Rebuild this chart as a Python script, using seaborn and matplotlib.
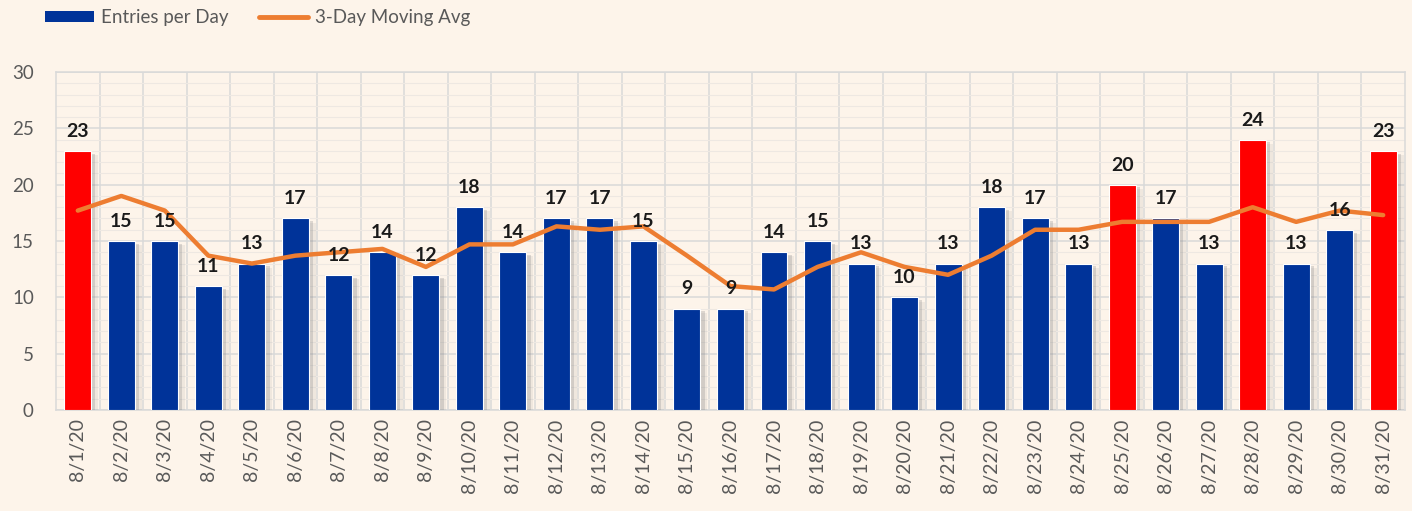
"""
Daily entries for August 2020 with a 3-day moving average.
Bars of 20 or more are shown in red.
"""
import numpy as np
import matplotlib

matplotlib.use("Agg")
import matplotlib.pyplot as plt
import matplotlib.patheffects as pe
from matplotlib.lines import Line2D
from matplotlib.patches import Patch
from matplotlib.ticker import MultipleLocator, FixedLocator
import seaborn as sns

dates = [f"8/{d}/20" for d in range(1, 32)]
entries = [23, 15, 15, 11, 13, 17, 12, 14, 12, 18, 14, 17, 17, 15, 9, 9,
           14, 15, 13, 10, 13, 18, 17, 13, 20, 17, 13, 24, 13, 16, 23]
moving_avg = [17.7, 19.0, 17.7, 13.7, 13.0, 13.7, 14.0, 14.3, 12.7, 14.7,
              14.7, 16.3, 16.0, 16.3, 13.7, 11.0, 10.7, 12.7, 14.0, 12.7,
              12.0, 13.7, 16.0, 16.0, 16.7, 16.7, 16.7, 18.0, 16.7, 17.7, 17.3]

BLUE = "#003399"
RED = "#FF0000"
ORANGE = "#ED7D31"
BG = "#FDF4EA"
GRID = "#D9D9D9"
TICK = "#595959"


def main():
    sns.set_style("white")
    plt.rcParams["font.family"] = ["Lato", "DejaVu Sans"]

    fig = plt.figure(figsize=(14.12, 5.11), dpi=100, facecolor=BG)
    ax = fig.add_axes([0.0397, 0.1977, 0.9553, 0.6613])
    ax.set_facecolor(BG)

    palette = {d: (RED if v >= 20 else BLUE) for d, v in zip(dates, entries)}
    sns.barplot(
        x=dates, y=entries, hue=dates, palette=palette, legend=False,
        width=0.62, edgecolor="white", linewidth=0.8, saturation=1, ax=ax,
        zorder=3,
    )
    # soft drop shadow, a few offset layers to fake a blur
    for bar in ax.patches:
        bar.set_path_effects([
            pe.SimplePatchShadow(offset=(5, -3), shadow_rgbFace="#8a8a8a", alpha=0.12),
            pe.SimplePatchShadow(offset=(3, -2), shadow_rgbFace="#7f7f7f", alpha=0.25),
            pe.Normal(),
        ])

    sns.lineplot(
        x=np.arange(len(dates)), y=moving_avg, color=ORANGE, linewidth=3.2,
        ax=ax, zorder=4,
    )

    for cont in ax.containers:
        ax.bar_label(cont, padding=8, fontsize=14, fontweight="bold",
                     color="#1a1a1a", zorder=5)

    ax.set_xlim(-0.5, len(dates) - 0.5)
    ax.set_ylim(0, 30)
    ax.set_yticks(range(0, 31, 5))
    ax.yaxis.set_minor_locator(MultipleLocator(1))
    ax.xaxis.set_major_locator(FixedLocator(np.arange(len(dates))))
    ax.set_xticklabels(dates, rotation=90)
    ax.xaxis.set_minor_locator(FixedLocator(np.arange(len(dates) - 1) + 0.5))

    ax.grid(which="major", axis="y", color=GRID, linewidth=1.1, zorder=0)
    ax.grid(which="minor", axis="y", color="#EEE8E2", linewidth=0.8, zorder=0)
    ax.grid(which="minor", axis="x", color=GRID, linewidth=1.1, zorder=0)
    ax.set_axisbelow(True)
    ax.tick_params(which="both", length=0)
    ax.tick_params(axis="y", labelsize=13.5, labelcolor=TICK, pad=16)
    ax.tick_params(axis="x", labelsize=14, labelcolor=TICK, pad=6)
    for s in ax.spines.values():
        s.set_color(GRID)
        s.set_linewidth(1.1)
    ax.set_xlabel("")
    ax.set_ylabel("")

    handles = [
        Patch(facecolor=BLUE, edgecolor="none"),
        Line2D([0], [0], color=ORANGE, linewidth=3.5),
    ]
    fig.legend(
        handles, ["Entries per Day", "3-Day Moving Avg"],
        loc="upper left", bbox_to_anchor=(0.02, 1.015), ncol=2, frameon=False,
        fontsize=13.5, labelcolor=TICK, handlelength=2.6, handleheight=0.55,
        handletextpad=0.4, columnspacing=1.6,
    )

    fig.savefig("out.png", dpi=100, facecolor=BG)


if __name__ == "__main__":
    main()
